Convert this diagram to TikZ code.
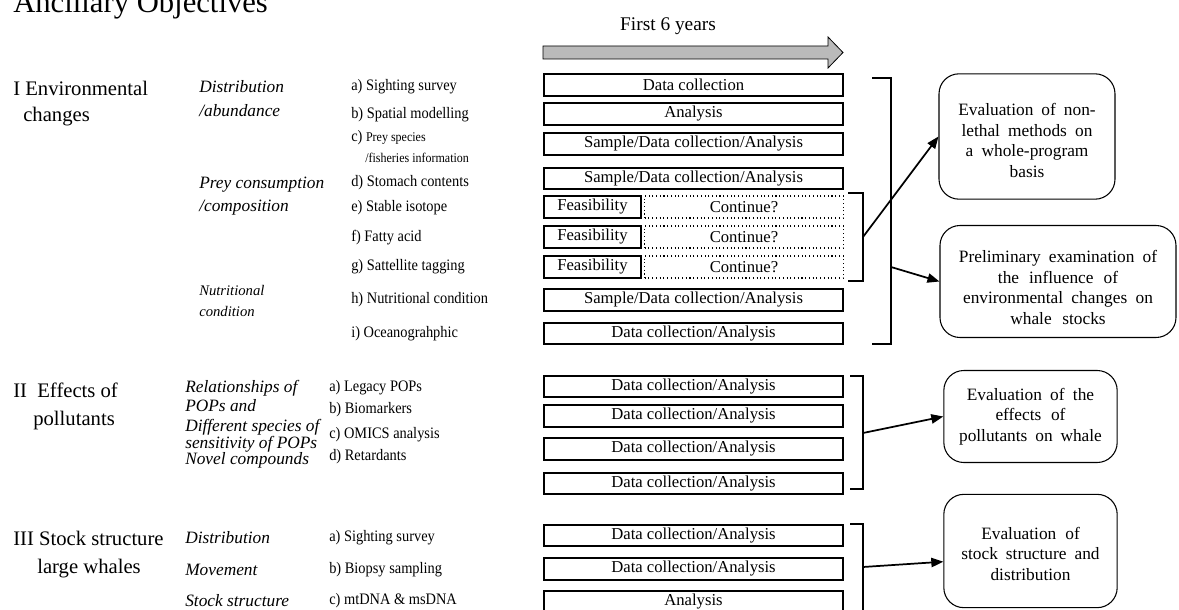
\documentclass[tikz,border=0pt]{standalone}
\usepackage{fontspec}
\setmainfont{Liberation Serif}
\newfontfamily\narrowserif[FakeStretch=0.9]{Liberation Serif}
\usetikzlibrary{arrows.meta}
\newcommand\widesp{\spaceskip=0.42em plus 0.1em\relax}

\begin{document}
\begin{tikzpicture}[x=0.75pt,y=-0.75pt,
  every node/.style={inner sep=0pt},
  boxfont/.style={font=\fontsize{12.5}{14}\selectfont},
  bar/.style={boxfont, draw, line width=1.6pt, minimum height=16.3pt, minimum width=224pt},
  feas/.style={boxfont, draw, line width=1.6pt, minimum height=16.3pt, minimum width=73pt},
  cont/.style={boxfont, draw, dotted, line width=0.8pt, minimum height=16.5pt, minimum width=149pt},
  head/.style={anchor=west, font=\fontsize{15.5}{18}\selectfont},
  topic/.style={anchor=west, font=\fontsize{13}{15}\selectfont\itshape},
  smalltopic/.style={anchor=west, font=\fontsize{11}{13}\selectfont\itshape},
  item/.style={anchor=west, font=\narrowserif\fontsize{12}{14}\selectfont},
  smallitem/.style={anchor=west, font=\narrowserif\fontsize{10}{12}\selectfont},
  goal/.style={draw, rounded corners=15pt, line width=0.8pt, align=center,
    font=\fontsize{13}{15.4}\selectfont, execute at begin node=\widesp},
  brace/.style={line width=1.5pt},
  link/.style={line width=1.3pt, -{Triangle[length=9pt,width=7pt]}}]

\useasboundingbox (0,0) rectangle (1179,610);
\clip (0,0) rectangle (1179,610);

% title and time line
\node[anchor=base west, font=\fontsize{23}{26}\selectfont] (title) at (13,13) {Ancillary Objectives};
\node[anchor=base, font=\fontsize{14.5}{17}\selectfont] (years) at (668,31) {First 6 years};
\draw[fill=black!27, line width=0.6pt] (543,46) -- (828,46) -- (828,37) -- (843,52.5)
  -- (828,68) -- (828,59) -- (543,59) -- cycle;

% ---------- I Environmental changes ----------
\node[head] (hI1) at (13,88) {I Environmental};
\node[head] (hI2) at (23,117) {changes};

\node[topic] (tI1) at (199,87) {Distribution};
\node[topic] (tI2) at (199,111) {/abundance};
\node[topic] (tI3) at (199,185) {Prey consumption};
\node[topic] (tI4) at (199,208) {/composition};
\node[smalltopic] (tI5) at (199,290) {Nutritional};
\node[smalltopic] (tI6) at (199,311) {condition};

\node[item] (iIa) at (351,87) {a) Sighting survey};
\node[item] (iIb) at (351,115) {b) Spatial modelling};
\node[item] (iIc) at (351,138) {c) {\fontsize{10}{12}\selectfont Prey species}};
\node[smallitem] (iIc2) at (365,158) {/fisheries information};
\node[item] (iId) at (351,183) {d) Stomach contents};
\node[item] (iIe) at (351,208) {e) Stable isotope};
\node[item] (iIf) at (351,238) {f) Fatty acid};
\node[item] (iIg) at (351,267) {g) Sattellite tagging};
\node[item] (iIh) at (351,300) {h) Nutritional condition};
\node[item] (iIi) at (351,334) {i) Oceanograhphic};

\node[bar] (bIa) at (693.5,85) {Data collection};
\node[bar] (bIb) at (693.5,114) {Analysis};
\node[bar] (bIc) at (693.5,144) {Sample/Data collection/Analysis};
\node[bar] (bId) at (693.5,178.5) {Sample/Data collection/Analysis};
\node[feas] (fIe) at (592.5,207) {Feasibility};
\node[cont] (cIe) at (744,207) {Continue?};
\node[feas] (fIf) at (592.5,237) {Feasibility};
\node[cont] (cIf) at (744,237) {Continue?};
\node[feas] (fIg) at (592.5,267) {Feasibility};
\node[cont] (cIg) at (744,267) {Continue?};
\node[bar] (bIh) at (693.5,300) {Sample/Data collection/Analysis};
\node[bar] (bIi) at (693.5,333.5) {Data collection/Analysis};

% ---------- II Effects of pollutants ----------
\node[head] (hII1) at (13,390) {II\ \ Effects of};
\node[head] (hII2) at (33,421) {pollutants};

\node[topic] (tII1) at (185,388) {Relationships of};
\node[topic] (tII2) at (185,406) {POPs and};
\node[topic] (tII3) at (185,427) {Different species of};
\node[topic] (tII4) at (185,444) {sensitivity of POPs};
\node[topic] (tII5) at (185,460) {Novel compounds};

\node[item] (iIIa) at (329,388) {a) Legacy POPs};
\node[item] (iIIb) at (329,410) {b) Biomarkers};
\node[item] (iIIc) at (329,435) {c) OMICS analysis};
\node[item] (iIId) at (329,457) {d) Retardants};

\node[bar] (bIIa) at (693.5,386.5) {Data collection/Analysis};
\node[bar] (bIIb) at (693.5,416) {Data collection/Analysis};
\node[bar] (bIIc) at (693.5,449) {Data collection/Analysis};
\node[bar] (bIId) at (693.5,483.5) {Data collection/Analysis};

% ---------- III Stock structure ----------
\node[head] (hIII1) at (13,538) {III Stock structure};
\node[head] (hIII2) at (37,569) {large whales};

\node[topic] (tIII1) at (185,538) {Distribution};
\node[topic] (tIII2) at (185,570) {Movement};
\node[topic] (tIII3) at (185,601) {Stock structure};

\node[item] (iIIIa) at (329,538) {a) Sighting survey};
\node[item] (iIIIb) at (329,570) {b) Biopsy sampling};
\node[item] (iIIIc) at (329,601) {c) mtDNA \& msDNA};

\node[bar] (bIIIa) at (693.5,535.5) {Data collection/Analysis};
\node[bar] (bIIIb) at (693.5,569) {Data collection/Analysis};
\node[bar] (bIIIc) at (693.5,602) {Analysis};

% ---------- outcomes ----------
\node[goal, minimum width=132pt, minimum height=94pt, text width=126pt] (g1) at (1027,136.5)
  {\rule{0pt}{15pt}Evaluation of non-\\lethal methods on\\a whole-program\\basis};
\node[goal, minimum width=177pt, minimum height=84pt, text width=172pt] (g2) at (1058,281.5)
  {\rule{0pt}{18pt}Preliminary examination of\\the influence of\\environmental changes on\\whale stocks};
\node[goal, minimum width=130pt, minimum height=69pt, text width=125pt] (g3) at (1030.5,416.5)
  {Evaluation of the\\effects of\\pollutants on whale};
\node[goal, minimum width=130pt, minimum height=85pt, text width=125pt] (g4) at (1030.5,551)
  {\rule{0pt}{13.5pt}Evaluation of\\stock structure and\\distribution};

% ---------- brackets and links ----------
\draw[brace] (872,78) -- (891,78) -- (891,344) -- (872,344);
\coordinate (kI) at (891,267);
\draw[brace] (848,193) -- (863,193) -- (863,281) -- (848,281);
\coordinate (kE) at (863,237);
\draw[brace] (850,376) -- (863,376) -- (863,489) -- (850,489);
\coordinate (kII) at (863,433);
\draw[brace] (850,524) -- (863,524) -- (863,625);
\coordinate (kIII) at (863,567);

\draw[link] (kE) -- (g1.west);
\draw[link] (kI) -- (g2.west);
\draw[link] (kII) -- (g3.west);
\draw[link] (kIII) -- (g4.187);
\end{tikzpicture}
\end{document}
